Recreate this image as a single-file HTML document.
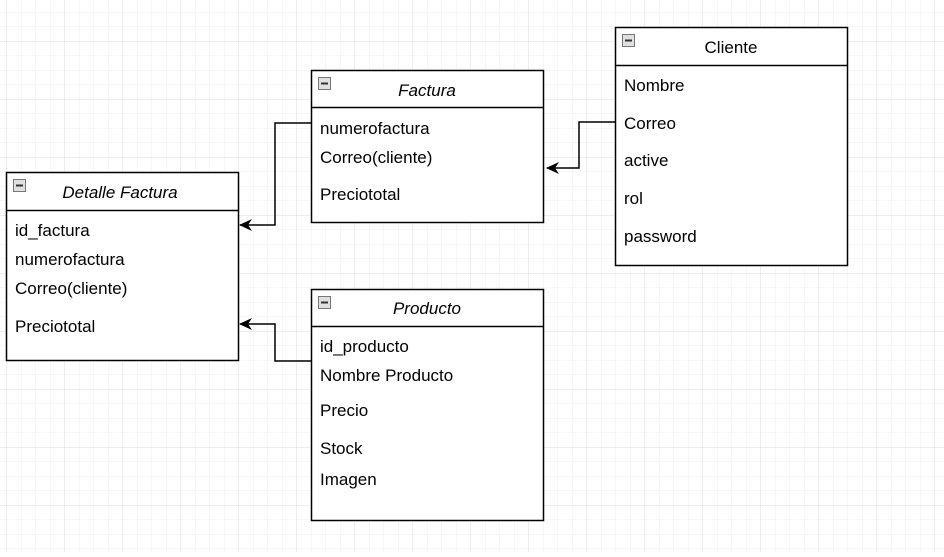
<!DOCTYPE html>
<html><head><meta charset="utf-8"><style>
body{margin:0;width:944px;height:552px;overflow:hidden;background:#fff;font-family:"Liberation Sans",Arial,sans-serif}
</style></head><body>
<svg width="944" height="552" xmlns="http://www.w3.org/2000/svg" font-family="Liberation Sans, Arial, sans-serif" font-size="17">
<defs>
<pattern id="mi" x="6.5" y="12" width="14.5" height="14.5" patternUnits="userSpaceOnUse"><path d="M0 0V14.5M0 0H14.5" stroke="#efefef" stroke-width="1" fill="none"/></pattern>
<pattern id="ma" x="6.5" y="41" width="58" height="58" patternUnits="userSpaceOnUse"><path d="M0 0V58M0 0H58" stroke="#dedede" stroke-width="1" fill="none"/></pattern>
<marker id="ar" markerWidth="14" markerHeight="14" refX="12" refY="7" orient="auto" markerUnits="userSpaceOnUse"><path d="M0,1 L13,7 L0,13 L4,7 Z" fill="#000"/></marker>
</defs>
<rect width="944" height="552" fill="url(#mi)"/>
<rect width="944" height="552" fill="url(#ma)"/>
<g fill="none" stroke="#000" stroke-width="1.5">
<path d="M311 123H275V225H240" marker-end="url(#ar)"/>
<path d="M311 361H275V324H240" marker-end="url(#ar)"/>
<path d="M615 122H579V168H547" marker-end="url(#ar)"/>
</g>
<g stroke="#000" stroke-width="1.5" fill="#fff">
<rect x="6.5" y="172.5" width="232" height="188"/><line x1="6.5" y1="210.5" x2="238.5" y2="210.5"/>
<rect x="311.5" y="70.5" width="232" height="152"/><line x1="311.5" y1="107.5" x2="543.5" y2="107.5"/>
<rect x="615.5" y="27.5" width="232" height="238"/><line x1="615.5" y1="65.5" x2="847.5" y2="65.5"/>
<rect x="311.5" y="289.5" width="232" height="231"/><line x1="311.5" y1="326.5" x2="543.5" y2="326.5"/>
</g>
<g fill="#e0e0e0" stroke="#777" stroke-width="1">
<rect x="13.5" y="179.5" width="12" height="12"/><rect x="318.5" y="77.5" width="12" height="12"/>
<rect x="622.5" y="34.5" width="12" height="12"/><rect x="318.5" y="296.5" width="12" height="12"/>
</g>
<g stroke="#333" stroke-width="2"><path d="M16 185.5H23M321 83.5H328M625 40.5H632M321 302.5H328"/></g>
<g fill="#000">
<text x="120" y="198" text-anchor="middle" font-style="italic">Detalle Factura</text>
<text x="15" y="236">id_factura</text><text x="15" y="265">numerofactura</text><text x="15" y="294">Correo(cliente)</text><text x="15" y="332">Preciototal</text>
<text x="427" y="96" text-anchor="middle" font-style="italic">Factura</text>
<text x="320" y="134">numerofactura</text><text x="320" y="163">Correo(cliente)</text><text x="320" y="200">Preciototal</text>
<text x="731" y="53" text-anchor="middle">Cliente</text>
<text x="624" y="91">Nombre</text><text x="624" y="129">Correo</text><text x="624" y="166">active</text><text x="624" y="204">rol</text><text x="624" y="242">password</text>
<text x="427" y="314" text-anchor="middle" font-style="italic">Producto</text>
<text x="320" y="352">id_producto</text><text x="320" y="381">Nombre Producto</text><text x="320" y="416">Precio</text><text x="320" y="454">Stock</text><text x="320" y="485">Imagen</text>
</g>
</svg>
</body></html>
